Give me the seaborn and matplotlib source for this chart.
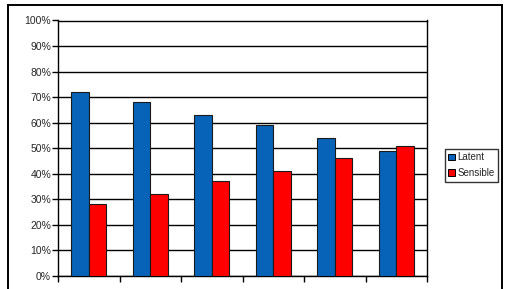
import matplotlib
matplotlib.use("Agg")
import matplotlib.pyplot as plt
import seaborn as sns
import pandas as pd
import numpy as np
from matplotlib.patches import Rectangle, Patch

groups = ["1", "2", "3", "4", "5", "6"]
latent = [72, 68, 63, 59, 54, 49]
sensible = [28, 32, 37, 41, 46, 51]
series = ["Latent", "Sensible"]
colors = {"Latent": "#0763B8", "Sensible": "#FF0000"}
ytick_labels = ["0%", "10%", "20%", "30%", "40%", "50%", "60%", "70%", "80%", "90%", "100%"]

df = pd.DataFrame({
    "group": groups * 2,
    "series": ["Latent"] * len(groups) + ["Sensible"] * len(groups),
    "value": latent + sensible,
})

sns.set_theme(style="white")
plt.rcParams['font.family'] = ['Liberation Sans', 'DejaVu Sans']

fig = plt.figure(figsize=(5.11, 2.89), dpi=100)
W, H = 511, 289
ax = fig.add_axes([58 / W, 1 - 276 / H, (427 - 58) / W, (276 - 20.5) / H])

sns.barplot(data=df, x="group", y="value", hue="series", palette=colors,
            width=0.57, gap=0, saturation=1, edgecolor="#1a1a1a", linewidth=0.8,
            ax=ax, legend=False, zorder=3)

ax.set_ylim(0, 100)
ax.set_xlim(-0.5, 5.5)
ax.set_yticks(np.arange(0, 101, 10))
ax.set_yticklabels(ytick_labels, fontsize=7.5)
ax.set_xticks(np.arange(-0.5, 6, 1))
ax.set_xticklabels([])
ax.set_xlabel("")
ax.set_ylabel("")
ax.yaxis.grid(True, color="black", linewidth=1.0)
ax.set_axisbelow(True)
ax.tick_params(axis="y", direction="out", length=4, width=1, color="black", pad=1, left=True)
ax.tick_params(axis="x", direction="out", length=4, width=1, color="black", bottom=True)
for s in ["left", "right", "bottom", "top"]:
    ax.spines[s].set_visible(True)
    ax.spines[s].set_color("black")
    ax.spines[s].set_linewidth(1.0)

# outer chart-area border
fig.patches.append(Rectangle((8 / W, -0.1), (502 - 8) / W, 0.1 + (H - 5) / H,
                             transform=fig.transFigure, fill=False,
                             edgecolor="black", linewidth=1.4))

handles = [Patch(facecolor=colors[s], edgecolor="black", linewidth=0.7) for s in series]
leg = fig.legend(handles, series, loc="upper left",
                 bbox_to_anchor=(445 / W, 1 - 149 / H), fontsize=7,
                 frameon=True, fancybox=False, edgecolor="black",
                 handlelength=0.7, handleheight=0.7, handletextpad=0.2,
                 borderpad=0.35, labelspacing=0.6, borderaxespad=0)
leg.get_frame().set_linewidth(1.0)

fig.savefig("out.png", dpi=100, facecolor="white")
